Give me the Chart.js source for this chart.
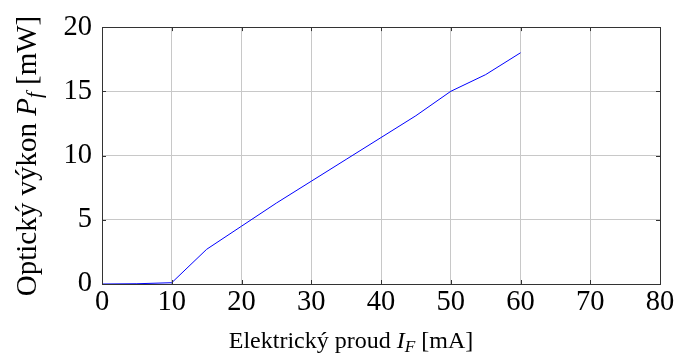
<!DOCTYPE html>
<html>
<head>
<meta charset="utf-8">
<script src="https://cdn.jsdelivr.net/npm/chart.js@4.4.1/dist/chart.umd.min.js"></script>
<style>
html,body{margin:0;padding:0;background:#fff;}
#wrap{width:678px;height:359px;position:relative;}
</style>
</head>
<body>
<div id="wrap"><canvas id="c" width="678" height="359"></canvas></div>
<script>
// Data
const currentMA = [0, 5, 10, 15, 20, 25, 30, 35, 40, 45, 50, 55, 60];
const powerMW   = [0, 0.02, 0.1, 2.7, 4.5, 6.3, 8.0, 9.7, 11.4, 13.1, 15.0, 16.3, 18.0];
const xTickValues = [0, 10, 20, 30, 40, 50, 60, 70, 80];
const yTickValues = [0, 5, 10, 15, 20];
const xTitleRuns = [
  {t: 'Elektrický proud ', s: ''},
  {t: 'I', s: 'italic'},
  {t: 'F', s: 'italic', sub: true},
  {t: ' [mA]', s: ''}
];
const yTitleRuns = [
  {t: 'Optický výkon ', s: ''},
  {t: 'P', s: 'italic'},
  {t: 'f', s: 'italic', sub: true},
  {t: ' [mW]', s: ''}
];

const FONT = '"Liberation Serif", "Times New Roman", serif';
const TFS = 28.5;

function runFont(r, fs){ return (r.s ? r.s + ' ' : '') + (r.sub ? fs*0.72 : fs) + 'px ' + FONT; }
function measureRuns(ctx, runs, fs){
  let w = 0;
  runs.forEach(r => { ctx.font = runFont(r, fs); w += ctx.measureText(r.t).width; });
  return w;
}
function drawRuns(ctx, runs, cx, baseY, fs){
  const w = measureRuns(ctx, runs, fs);
  let x = cx - w/2;
  ctx.textAlign = 'left';
  ctx.textBaseline = 'alphabetic';
  ctx.fillStyle = '#000';
  runs.forEach(r => {
    ctx.font = runFont(r, fs);
    ctx.fillText(r.t, x, baseY + (r.sub ? fs*0.18 : 0));
    x += ctx.measureText(r.t).width;
  });
}

const framePlugin = {
  id: 'frame',
  afterDraw(chart){
    const {ctx, chartArea: a, scales} = chart;
    ctx.save();
    ctx.strokeStyle = '#333';
    ctx.lineWidth = 1;
    // inward tick marks
    ctx.beginPath();
    xTickValues.forEach(v => {
      const px = Math.round(scales.x.getPixelForValue(v)) + 0.5;
      ctx.moveTo(px, a.bottom); ctx.lineTo(px, a.bottom - 4);
      ctx.moveTo(px, a.top); ctx.lineTo(px, a.top + 4);
    });
    yTickValues.forEach(v => {
      const py = Math.round(scales.y.getPixelForValue(v)) + 0.5;
      ctx.moveTo(a.left, py); ctx.lineTo(a.left + 4, py);
      ctx.moveTo(a.right, py); ctx.lineTo(a.right - 4, py);
    });
    ctx.stroke();
    ctx.strokeRect(Math.round(a.left)+0.5, Math.round(a.top)+0.5, Math.round(a.right - a.left), Math.round(a.bottom - a.top));
    // titles
    drawRuns(ctx, xTitleRuns, 351, 348, 24);
    ctx.translate(36, 156);
    ctx.rotate(-Math.PI/2);
    drawRuns(ctx, yTitleRuns, 0, 0, 29);
    ctx.restore();
  }
};

new Chart(document.getElementById('c'), {
  type: 'line',
  data: {
    datasets: [{
      data: currentMA.map((x, i) => ({x: x, y: powerMW[i]})),
      borderColor: '#0000ff',
      borderWidth: 1,
      pointRadius: 0,
      tension: 0,
      fill: false
    }]
  },
  options: {
    responsive: false,
    animation: false,
    plugins: {legend: {display: false}, tooltip: {enabled: false}},
    layout: {padding: {top: 26, right: 18, left: 0, bottom: 0}},
    scales: {
      x: {
        type: 'linear', min: 0, max: 80,
        afterBuildTicks: s => { s.ticks = xTickValues.map(v => ({value: v})); },
        afterFit: s => { s.height = 75; },
        grid: {color: '#c8c8c8', drawTicks: false, lineWidth: 1},
        border: {display: false},
        ticks: {color: '#000', font: {family: FONT, size: TFS}, padding: 1, maxRotation: 0}
      },
      y: {
        type: 'linear', min: 0, max: 20,
        afterBuildTicks: s => { s.ticks = yTickValues.map(v => ({value: v})); },
        afterFit: s => { s.width = 102; },
        grid: {color: '#c8c8c8', drawTicks: false, lineWidth: 1},
        border: {display: false},
        ticks: {color: '#000', font: {family: FONT, size: TFS}, padding: 10}
      }
    }
  },
  plugins: [framePlugin]
});
</script>
</body>
</html>
